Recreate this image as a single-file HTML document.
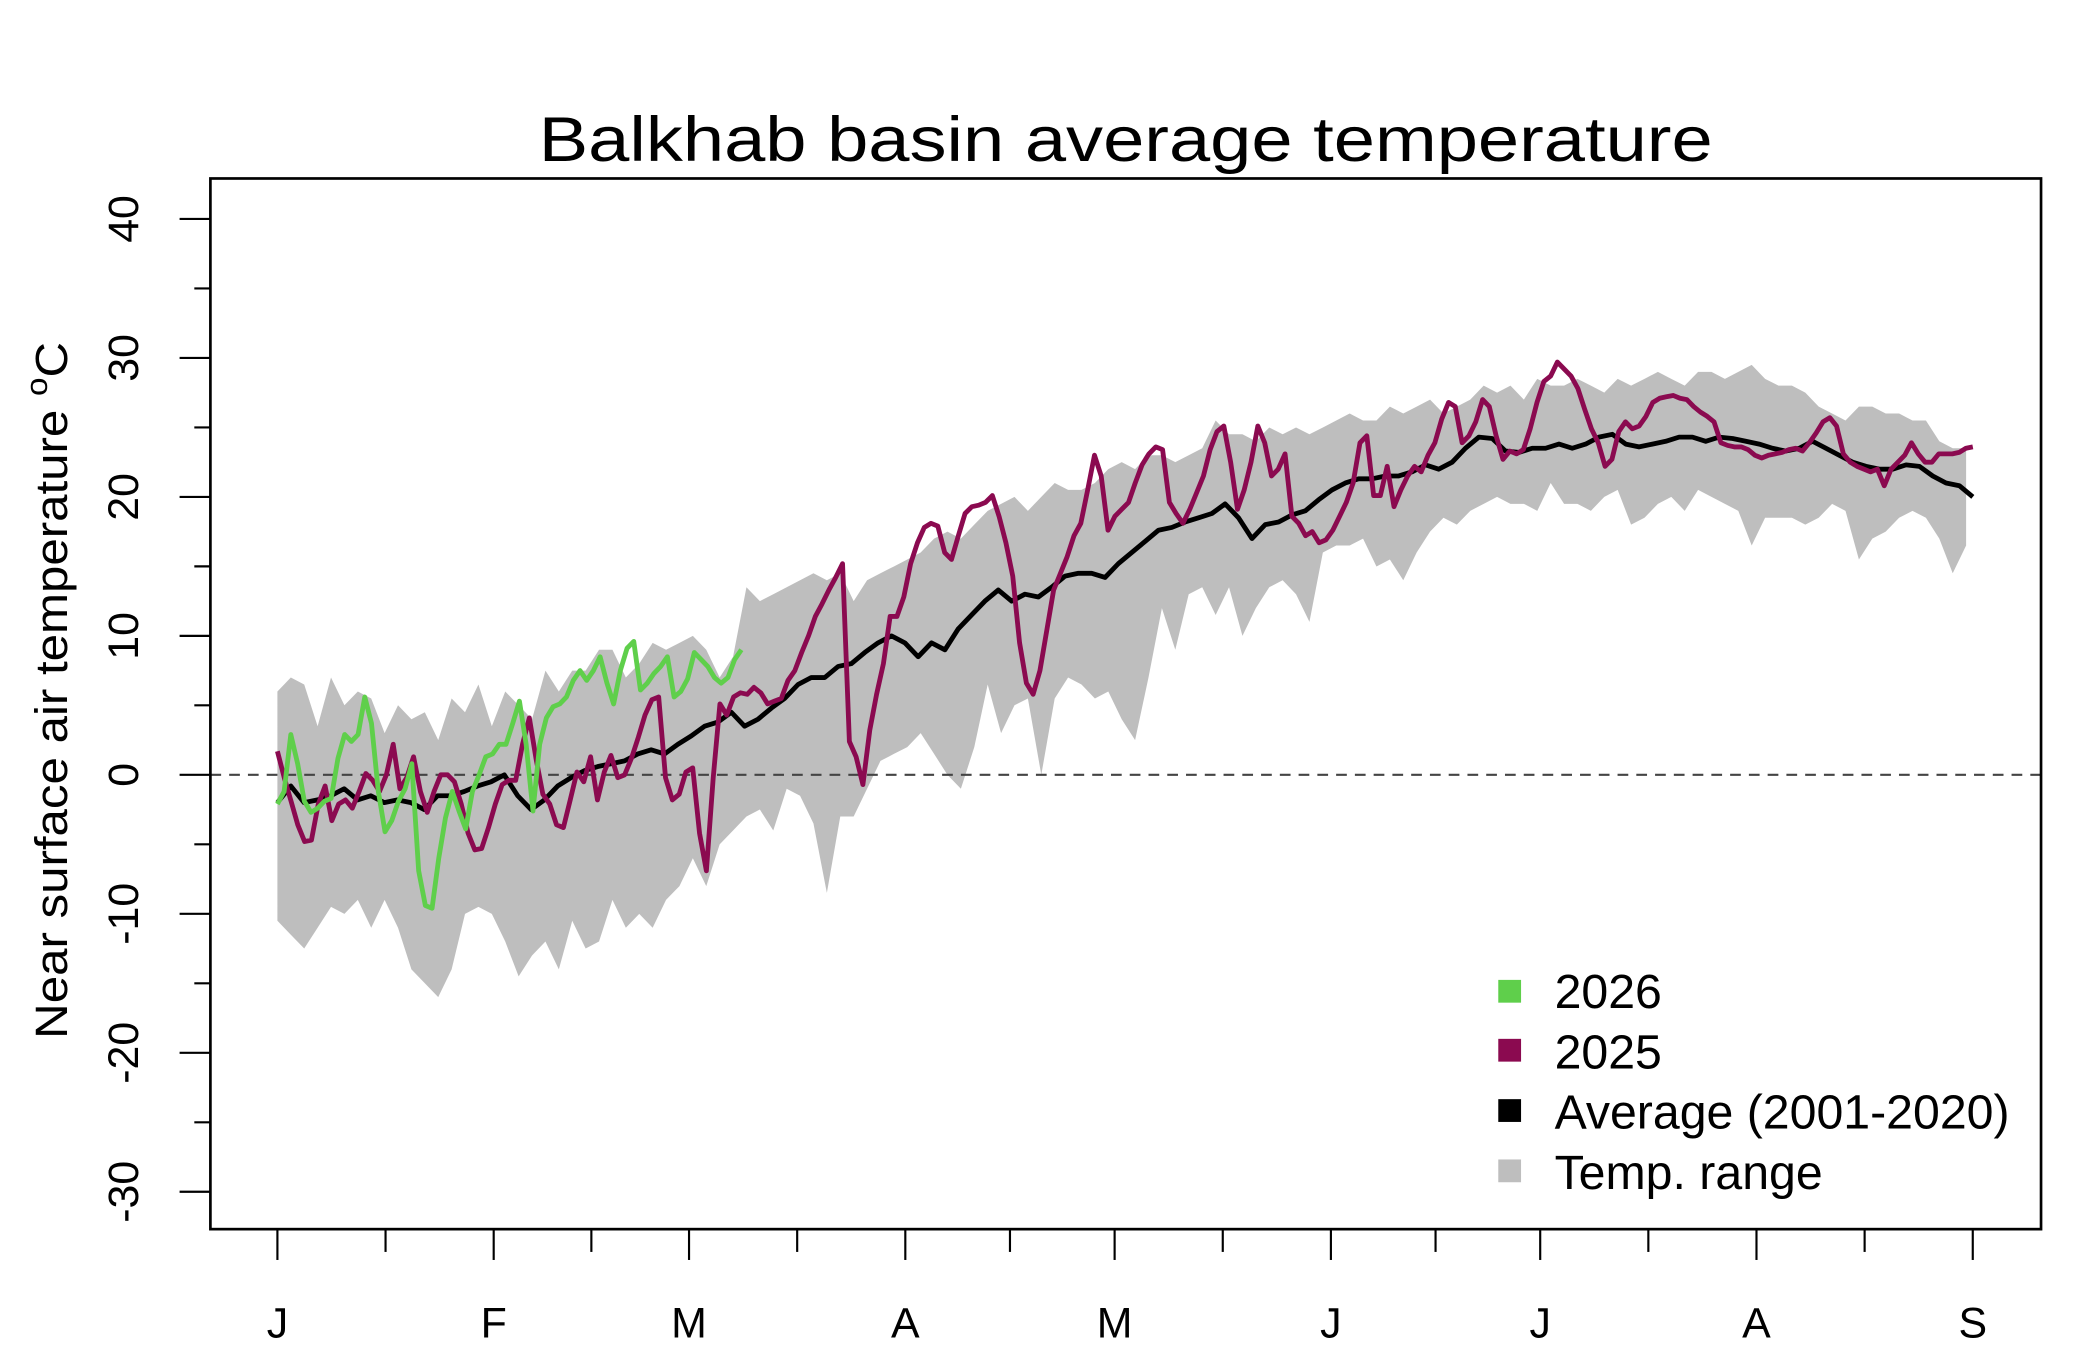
<!DOCTYPE html>
<html><head><meta charset="utf-8"><style>
html,body{margin:0;padding:0;background:#fff}
svg{display:block;font-family:"Liberation Sans",sans-serif}
</style></head><body>
<svg id="chart" width="2100" height="1350" viewBox="0 0 1567 1007" xmlns="http://www.w3.org/2000/svg">
<text x="840" y="120" font-size="47" text-anchor="middle" textLength="876" lengthAdjust="spacingAndGlyphs">Balkhab basin average temperature</text>
<text transform="translate(50,515) rotate(-90)" font-size="34" text-anchor="middle" textLength="520" lengthAdjust="spacingAndGlyphs">Near surface air temperature <tspan font-size="23" dy="-15">o</tspan><tspan dy="15">C</tspan></text>
<g id="band"></g>
<line x1="157" x2="1523" y1="578" y2="578" stroke="#444" stroke-width="1.6" stroke-dasharray="8,6"/>
<g id="lines"></g>
<rect x="157" y="133" width="1366" height="784" fill="none" stroke="#000" stroke-width="2"/>
<g id="axes"></g>
<g font-size="36">
<rect x="1118" y="731" width="17" height="17" fill="#5fcf4b"/>
<text x="1160" y="752">2026</text>
<rect x="1118" y="775" width="17" height="17" fill="#8b0a50"/>
<text x="1160" y="797">2025</text>
<rect x="1118" y="820" width="17" height="17" fill="#000"/>
<text x="1160" y="842">Average (2001-2020)</text>
<rect x="1118" y="865" width="17" height="17" fill="#bebebe"/>
<text x="1160" y="887">Temp. range</text>
</g>
</svg>
<script>
const monthLabels = ["J","F","M","A","M","J","J","A","S"];
const monthStartDays = [0,31,59,90,120,151,181,212,243];
const yTicks = [40,30,20,10,0,-10,-20,-30];
const bandStep = 1.921;
const rangeUpper = [6,7,6.5,3.5,7,5,6,5.5,3,5,4,4.5,2.5,5.5,4.5,6.5,3.5,6,5,4,7.5,6,7.5,7.5,9,9,7,8,9.5,9,9.5,10,9,7,8.5,13.5,12.5,13,13.5,14,14.5,14,14.5,12.5,14,14.5,15,15.5,16,17,17.5,17,18,19,19.5,20,19,20,21,20.5,20.5,21,22,22.5,22,23,23,22.5,23,23.5,25.5,24.5,24.5,24,25,24.5,25,24.5,25,25.5,26,25.5,25.5,26.5,26,26.5,27,26,26.5,27,28,27.5,28,27,28.5,28,28,28.5,28,27.5,28.5,28,28.5,29,28.5,28,29,29,28.5,29,29.5,28.5,28,28,27.5,26.5,26,25.5,26.5,26.5,26,26,25.5,25.5,24,23.5,23.5];
const rangeLower = [-10.5,-11.5,-12.5,-11,-9.5,-10,-9,-11,-9,-11,-14,-15,-16,-14,-10,-9.5,-10,-12,-14.5,-13,-12,-14,-10.5,-12.5,-12,-9,-11,-10,-11,-9,-8,-6,-8,-5,-4,-3,-2.5,-4,-1,-1.5,-3.5,-8.5,-3,-3,-1,1,1.5,2,3,1.5,0,-1,2,6.5,3,5,5.5,0,5.5,7,6.5,5.5,6,4,2.5,7,12,9,13,13.5,11.5,13.5,10,12,13.5,14,13,11,16,16.5,16.5,17,15,15.5,14,16,17.5,18.5,18,19,19.5,20,19.5,19.5,19,21,19.5,19.5,19,20,20.5,18,18.5,19.5,20,19,20.5,20,19.5,19,16.5,18.5,18.5,18.5,18,18.5,19.5,19,15.5,17,17.5,18.5,19,18.5,17,14.5,16.5];
const averageTemp = [-2,-0.8,-2,-1.8,-1.5,-1,-1.8,-1.5,-2,-1.8,-2,-2.5,-1.5,-1.5,-1.2,-0.8,-0.5,0,-1.5,-2.5,-1.8,-0.8,-0.2,0.3,0.6,0.8,1,1.5,1.8,1.5,2.2,2.8,3.5,3.8,4.5,3.5,4,4.8,5.5,6.5,7,7,7.8,8,8.8,9.5,10,9.5,8.5,9.5,9,10.5,11.5,12.5,13.3,12.5,13,12.8,13.5,14.3,14.5,14.5,14.2,15.2,16,16.8,17.6,17.8,18.2,18.5,18.8,19.5,18.5,17,18,18.2,18.7,19,19.8,20.5,21,21.3,21.3,21.5,21.5,21.8,22.3,22,22.5,23.5,24.3,24.2,23.3,23.2,23.5,23.5,23.8,23.5,23.8,24.3,24.5,23.8,23.6,23.8,24,24.3,24.3,24,24.3,24.2,24,23.8,23.5,23.3,23.5,24,23.5,23,22.5,22.2,22,22,22.3,22.2,21.5,21,20.8,20];
const temp2025 = [1.7,-0.2,-1.9,-3.6,-4.8,-4.7,-2.1,-0.8,-3.3,-2.1,-1.8,-2.4,-1.2,0.1,-0.4,-1.2,0,2.2,-1,-0.2,1.3,-1.2,-2.7,-1.2,0,0,-0.5,-2.1,-4.2,-5.4,-5.3,-3.8,-2.1,-0.7,-0.4,-0.4,2.2,4.1,1.1,-1.4,-2.1,-3.6,-3.8,-1.8,0.2,-0.5,1.3,-1.8,0.2,1.4,-0.2,0,1.2,2.7,4.3,5.4,5.6,-0.2,-1.8,-1.4,0.2,0.5,-4.2,-6.9,-0.2,5.1,4.3,5.6,5.9,5.8,6.3,5.9,5.1,5.3,5.5,6.8,7.5,8.8,10,11.4,12.3,13.3,14.2,15.2,2.4,1.3,-0.7,3.2,5.8,8,11.4,11.4,12.8,15.2,16.7,17.8,18.1,17.9,16,15.5,17.2,18.8,19.3,19.4,19.6,20.1,18.6,16.7,14.3,9.5,6.6,5.8,7.5,10.4,13.3,14.5,15.7,17.2,18.1,20.5,23,21.5,17.6,18.6,19.1,19.6,21,22.3,23.1,23.6,23.4,19.6,18.8,18.1,19.1,20.3,21.5,23.4,24.7,25.1,22.5,19.1,20.5,22.5,25.1,23.9,21.5,22,23.1,18.6,18.1,17.2,17.5,16.7,16.9,17.6,18.6,19.6,21,23.9,24.4,20.1,20.1,22.2,19.3,20.5,21.5,22.2,21.8,23,23.9,25.6,26.8,26.5,23.9,24.4,25.4,27,26.5,24.4,22.7,23.3,23.1,23.4,24.9,26.8,28.3,28.7,29.7,29.2,28.7,27.8,26.3,24.9,23.9,22.2,22.7,24.7,25.4,24.9,25.1,25.8,26.8,27.1,27.2,27.3,27.1,27,26.5,26.1,25.8,25.4,23.9,23.7,23.6,23.6,23.4,23,22.8,23,23.1,23.2,23.4,23.5,23.3,23.9,24.6,25.4,25.7,25.1,23.1,22.5,22.2,22,21.8,22,20.8,22,22.5,23,23.9,23.1,22.5,22.5,23.1,23.1,23.1,23.2,23.5,23.6];
const temp2026 = [-2.1,-1.2,2.9,0.8,-1.9,-2.7,-2.4,-1.9,-1.7,1.2,2.9,2.4,2.9,5.6,3.7,-1.2,-4.1,-3.3,-1.9,-1,0.8,-6.9,-9.4,-9.6,-6,-3.1,-1.2,-2.6,-3.9,-1.2,0,1.3,1.5,2.2,2.2,3.7,5.3,2.2,-2.6,2.2,4.1,4.9,5.1,5.6,6.8,7.5,6.8,7.5,8.5,6.6,5.1,7.5,9.1,9.6,6.1,6.6,7.3,7.8,8.5,5.6,6,6.9,8.8,8.3,7.8,7,6.6,7,8.3,9];
const end2026Day = 66.5;

const NS = "http://www.w3.org/2000/svg";
const X0 = 207, PXDAY = 5.206, Y0 = 578, PXDEG = 10.37;
function xScale(d){ return X0 + d*PXDAY; }
function yScale(v){ return Y0 - v*PXDEG; }
function mk(tag, attrs, parent){ const e=document.createElementNS(NS,tag); for(const k in attrs) e.setAttribute(k,attrs[k]); parent.appendChild(e); return e; }

const band = document.getElementById('band');
let pts = [];
rangeUpper.forEach((v,i)=>pts.push(xScale(i*bandStep).toFixed(1)+','+yScale(v).toFixed(1)));
for(let i=rangeLower.length-1;i>=0;i--) pts.push(xScale(i*bandStep).toFixed(1)+','+yScale(rangeLower[i]).toFixed(1));
const poly = mk('polygon',{points:pts.join(' '),fill:'#bebebe',stroke:'none'},band);



const lines = document.getElementById('lines');
function drawLine(vals, step, color, name){
  const p = vals.map((v,i)=>xScale(i*step).toFixed(1)+','+yScale(v).toFixed(1)).join(' ');
  const l = mk('polyline',{points:p,fill:'none',stroke:color,'stroke-width':3.6,'stroke-linejoin':'round'},lines);
  
  
}
drawLine(averageTemp, 243/(averageTemp.length-1), '#000', 'average-line');
drawLine(temp2025, 243/(temp2025.length-1), '#8b0a50', 'line-2025');
drawLine(temp2026, end2026Day/(temp2026.length-1), '#5fcf4b', 'line-2026');

const axes = document.getElementById('axes');
yTicks.forEach(v=>{
  const t = mk('line',{x1:157,x2:134,y1:yScale(v),y2:yScale(v),stroke:'#000','stroke-width':1.6},axes);
  
  
  const lb = mk('text',{transform:`translate(103,${yScale(v)}) rotate(-90)`,'font-size':32,'text-anchor':'middle'},axes);
  lb.textContent = v;
  
  
  if(v>-30){
    const m = mk('line',{x1:157,x2:145,y1:yScale(v-5),y2:yScale(v-5),stroke:'#000','stroke-width':1.6},axes);
    
    
  }
});
monthStartDays.forEach((d,i)=>{
  const t = mk('line',{x1:xScale(d),x2:xScale(d),y1:917,y2:940,stroke:'#000','stroke-width':1.6},axes);
  
  
  const lb = mk('text',{x:xScale(d),y:998,'font-size':32,'text-anchor':'middle'},axes);
  lb.textContent = monthLabels[i];
  
  
  if(i<monthStartDays.length-1){
    const md = (d+monthStartDays[i+1])/2;
    const m = mk('line',{x1:xScale(md),x2:xScale(md),y1:917,y2:934,stroke:'#000','stroke-width':1.6},axes);
    
    
  }
});
</script>
</body></html>
